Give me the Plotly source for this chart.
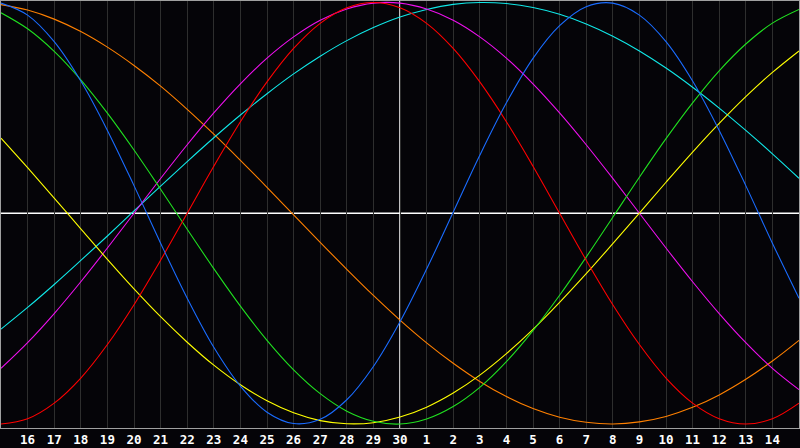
import plotly.graph_objects as go

# Day positions 0..30 (position 0 = day 15, 15 = day 30, 30 = day 15 next month)
positions = list(range(31))
tick_positions = list(range(1, 30))
tick_labels = [str(d) for d in range(16, 31)] + [str(d) for d in range(1, 15)]

# Curve values read at each day line (-1 .. 1)
blue = [0.997, 0.940, 0.814, 0.627, 0.393, 0.131, -0.142, -0.403, -0.636, -0.820,
        -0.944, -0.998, -0.978, -0.885, -0.727, -0.515, -0.265, 0.005, 0.275, 0.524,
        0.735, 0.890, 0.980, 0.997, 0.940, 0.814, 0.627, 0.393, 0.131, -0.142, -0.403]
red = [-1.000, -0.975, -0.901, -0.782, -0.623, -0.434, -0.223, 0.000, 0.223, 0.434,
       0.623, 0.782, 0.901, 0.975, 1.000, 0.975, 0.901, 0.782, 0.623, 0.434,
       0.223, 0.000, -0.223, -0.434, -0.623, -0.782, -0.901, -0.975, -1.000, -0.975, -0.901]
green = [0.951, 0.875, 0.768, 0.633, 0.475, 0.300, 0.114, -0.076, -0.263, -0.441,
         -0.603, -0.743, -0.856, -0.939, -0.987, -1.000, -0.976, -0.917, -0.826, -0.704,
         -0.557, -0.389, -0.208, -0.019, 0.171, 0.354, 0.524, 0.676, 0.803, 0.902, 0.967]
yellow = [0.356, 0.216, 0.072, -0.074, -0.219, -0.359, -0.491, -0.612, -0.721, -0.814,
          -0.890, -0.947, -0.984, -0.999, -0.994, -0.967, -0.920, -0.853, -0.768, -0.666,
          -0.551, -0.423, -0.287, -0.144, 0.001, 0.147, 0.290, 0.426, 0.553, 0.668, 0.770]
orange = [0.990, 0.964, 0.921, 0.862, 0.788, 0.701, 0.603, 0.493, 0.375, 0.251,
          0.123, -0.008, -0.138, -0.266, -0.390, -0.507, -0.615, -0.712, -0.798, -0.870,
          -0.927, -0.968, -0.992, -1.000, -0.990, -0.964, -0.921, -0.862, -0.788, -0.701, -0.603]
cyan = [-0.550, -0.447, -0.338, -0.224, -0.108, 0.011, 0.129, 0.245, 0.358, 0.466,
        0.567, 0.661, 0.745, 0.819, 0.881, 0.931, 0.967, 0.991, 1.000, 0.995,
        0.976, 0.944, 0.898, 0.840, 0.770, 0.689, 0.598, 0.499, 0.393, 0.282, 0.166]
magenta = [-0.736, -0.614, -0.476, -0.325, -0.165, 0.000, 0.165, 0.325, 0.476, 0.614,
           0.736, 0.837, 0.916, 0.969, 0.997, 0.997, 0.969, 0.916, 0.837, 0.736,
           0.614, 0.476, 0.325, 0.165, 0.000, -0.165, -0.325, -0.476, -0.614, -0.736, -0.837]

series = [
    ("Aware", orange, "#ff8000"),
    ("Spiritual", cyan, "#10e8e8"),
    ("Intuitive", magenta, "#ee10ee"),
    ("Aesthetic", yellow, "#ffff00"),
    ("Intellectual", green, "#20e020"),
    ("Emotional", red, "#ff0000"),
    ("Physical", blue, "#1a6cff"),
]

fig = go.Figure()
for name, vals, col in series:
    fig.add_trace(go.Scatter(x=positions, y=vals, mode="lines", name=name,
                             line=dict(color=col, width=1.1, shape="spline"),
                             hoverinfo="skip"))

fig.add_shape(type="line", xref="paper", yref="y", x0=0, x1=1, y0=0, y1=0,
              line=dict(color="#ffffff", width=1.5), layer="below")
fig.add_shape(type="line", xref="x", yref="paper", x0=15, x1=15, y0=0, y1=1,
              line=dict(color="#ffffff", width=1.5), layer="below")

fig.update_layout(
    width=800, height=448,
    margin=dict(l=1, r=1, t=1, b=20),
    paper_bgcolor="#050408",
    plot_bgcolor="#050408",
    showlegend=False,
    xaxis=dict(range=[0, 30], tickvals=tick_positions, ticktext=tick_labels,
               showgrid=True, gridcolor="#2e2e2e", gridwidth=1, zeroline=False,
               showline=True, linecolor="#a0a0a0", linewidth=1, mirror=True,
               ticks="", ticklen=0,
               tickfont=dict(family="DejaVu Sans Mono", size=12.5, color="#ffffff", weight="bold"),
               fixedrange=True),
    yaxis=dict(range=[-1.019, 1.007], showgrid=False, zeroline=False,
               showticklabels=False, showline=True, linecolor="#a0a0a0",
               linewidth=1, mirror=True, ticks="", fixedrange=True),
)

fig.write_html("out.html", config={"displayModeBar": False},
               post_script="document.body.style.margin='0';document.body.style.background='#050408';")
